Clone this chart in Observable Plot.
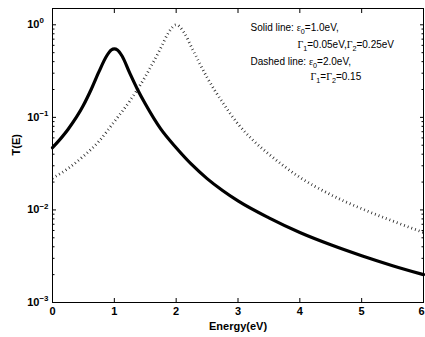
<!DOCTYPE html>
<html>
<head>
<meta charset="utf-8">
<script src="https://cdn.jsdelivr.net/npm/d3@7"></script>
<script src="https://cdn.jsdelivr.net/npm/@observablehq/plot@0.6"></script>
<style>
  html, body { margin: 0; padding: 0; background: #fff; }
  #chart svg { display: block; }
</style>
</head>
<body>
<div id="chart"></div>
<script>
// ---- data ----
const solidEnergy = [0, 0.25, 0.5, 0.625, 0.75, 0.875, 0.95, 1.0, 1.05, 1.125, 1.25, 1.375, 1.5, 1.75, 2.0, 2.25, 2.5, 2.75, 3.0, 3.5, 4.0, 4.5, 5.0, 5.5, 6.0];
const solidT      = [0.047, 0.074, 0.135, 0.2, 0.31, 0.46, 0.535, 0.55, 0.535, 0.46, 0.3, 0.2, 0.14, 0.075, 0.047, 0.031, 0.0218, 0.0162, 0.0125, 0.0082, 0.0057, 0.0042, 0.0032, 0.0025, 0.002];
const dashedEnergy = [0, 0.25, 0.5, 0.75, 1.0, 1.25, 1.5, 1.75, 1.875, 2.0, 2.125, 2.25, 2.5, 2.75, 3.0, 3.25, 3.5, 3.75, 4.0, 4.5, 5.0, 5.5, 6.0];
const dashedT      = [0.022, 0.028, 0.038, 0.055, 0.09, 0.15, 0.275, 0.56, 0.82, 1.0, 0.83, 0.57, 0.27, 0.145, 0.085, 0.056, 0.04, 0.0295, 0.0225, 0.0146, 0.0103, 0.0076, 0.0057];

const xTicks = [0, 1, 2, 3, 4, 5, 6];
const yMajorTicks = [0.001, 0.01, 0.1, 1];
const yExponents = ["\u22123", "\u22122", "\u22121", "0"];
const yMinorTicks = [2,3,4,5,6,7,8,9].flatMap(m => [0.001, 0.01, 0.1].map(d => +(m * d).toPrecision(3)));

const xLabel = "Energy(eV)";
const yLabel = "T(E)";
const noteLines = [
  "Solid line: \u03B5_{0}=1.0eV,",
  "\u0393_{1}=0.05eV,\u0393_{2}=0.25eV",
  "Dashed line: \u03B5_{0}=2.0eV,",
  "\u0393_{1}=\u0393_{2}=0.15"
];

const solid = solidEnergy.map((e, i) => ({E: e, T: solidT[i]}));
const dashed = dashedEnergy.map((e, i) => ({E: e, T: dashedT[i]}));

const FONT = "'Liberation Sans', Arial, Helvetica, sans-serif";
const noteOffsets = [[198, 19.5], [245, 36.5], [198, 53.5], [258, 68.5]];

const plot = Plot.plot({
  width: 425,
  height: 337,
  marginLeft: 52,
  marginRight: 2,
  marginTop: 8,
  marginBottom: 35,
  style: {fontFamily: FONT, background: "#fff", color: "#000", overflow: "visible"},
  x: {domain: [0, 6]},
  y: {type: "log", domain: [0.001, 1.5]},
  marks: [
    Plot.line(dashed, {x: "E", y: "T", stroke: "#222", strokeWidth: 2.8, strokeDasharray: "0.8,3.1", strokeLinecap: "butt", curve: "monotone-x"}),
    Plot.line(solid, {x: "E", y: "T", stroke: "#000", strokeWidth: 3.2, curve: "monotone-x"}),
    Plot.frame({stroke: "#000", strokeWidth: 1}),
    Plot.axisY({anchor: "left", ticks: yMajorTicks, tickSize: 4, dx: 4, tickPadding: 13, label: null,
      tickFormat: d => "10^{" + yExponents[yMajorTicks.indexOf(d)] + "}", fontSize: 11, fontWeight: "bold"}),
    Plot.axisY({anchor: "left", ticks: yMinorTicks, tickSize: 2.5, dx: 2.5, fill: "none", label: null}),
    Plot.axisY({anchor: "right", ticks: yMajorTicks, tickSize: 4, dx: -4, fill: "none", label: null}),
    Plot.axisY({anchor: "right", ticks: yMinorTicks, tickSize: 2.5, dx: -2.5, fill: "none", label: null}),
    Plot.axisX({anchor: "bottom", ticks: xTicks, tickSize: 4, dy: -4, tickPadding: 5, label: null,
      tickFormat: d => String(d), fontSize: 11, fontWeight: "bold"}),
    Plot.axisX({anchor: "top", ticks: xTicks, tickSize: 4, dy: 4, fill: "none", label: null}),
    Plot.text([xLabel], {frameAnchor: "bottom", text: d => d, dy: 24, lineAnchor: "middle", fontSize: 11, fontWeight: "bold"}),
    Plot.text([yLabel], {frameAnchor: "left", text: d => d, dx: -36, rotate: -90, lineAnchor: "middle", fontSize: 11, fontWeight: "bold"}),
    ...noteLines.map((s, i) => Plot.text([s], {frameAnchor: "top-left", text: d => d, dx: noteOffsets[i][0], dy: noteOffsets[i][1],
      textAnchor: "start", lineAnchor: "middle", fontSize: 10}))
  ]
});

document.getElementById("chart").appendChild(plot);

// ---- rich text: ^{...} superscripts, _{...} subscripts ----
const NS = "http://www.w3.org/2000/svg";
d3.select(plot).selectAll("text").each(function () {
  const el = this;
  const s = el.textContent;
  // keep the last x tick label ("6") inside the canvas edge
  if (s === String(xTicks[xTicks.length - 1]) && getComputedStyle(el).textAnchor !== "end") {
    el.setAttribute("dx", -2);
    return;
  }
  if (!/[_^]\{/.test(s)) return;
  const fs = parseFloat(getComputedStyle(el).fontSize) || 10;
  const parts = s.split(/([_^]\{[^}]*\})/).filter(p => p.length);
  while (el.firstChild) el.removeChild(el.firstChild);
  let shift = 0;
  let first = null;
  for (const p of parts) {
    const m = p.match(/^([_^])\{(.*)\}$/);
    if (m) {
      const t = document.createElementNS(NS, "tspan");
      const dy = m[1] === "^" ? -0.45 * fs : 0.32 * fs;
      t.setAttribute("dy", dy - shift);
      t.setAttribute("font-size", (0.72 * fs).toFixed(1));
      t.textContent = m[2];
      el.appendChild(t);
      shift = dy;
    } else {
      const chunks = p.split(/([\u0393\u03B5])/).filter(c => c.length);
      chunks.forEach((c, k) => {
        const t = document.createElementNS(NS, "tspan");
        if (k === 0 && shift !== 0) { t.setAttribute("dy", -shift); }
        if (/[\u0393\u03B5]/.test(c)) t.setAttribute("font-family", "'Liberation Serif', 'Times New Roman', serif");
        t.textContent = c;
        el.appendChild(t);
        if (!first) first = t;
      });
      shift = 0;
    }
  }
  if (el.getAttribute("text-anchor") === "end" || getComputedStyle(el).textAnchor === "end") {
    const len = first.getComputedTextLength();
    el.setAttribute("text-anchor", "start");
    first.setAttribute("dx", -len);
  }
});
</script>
</body>
</html>
